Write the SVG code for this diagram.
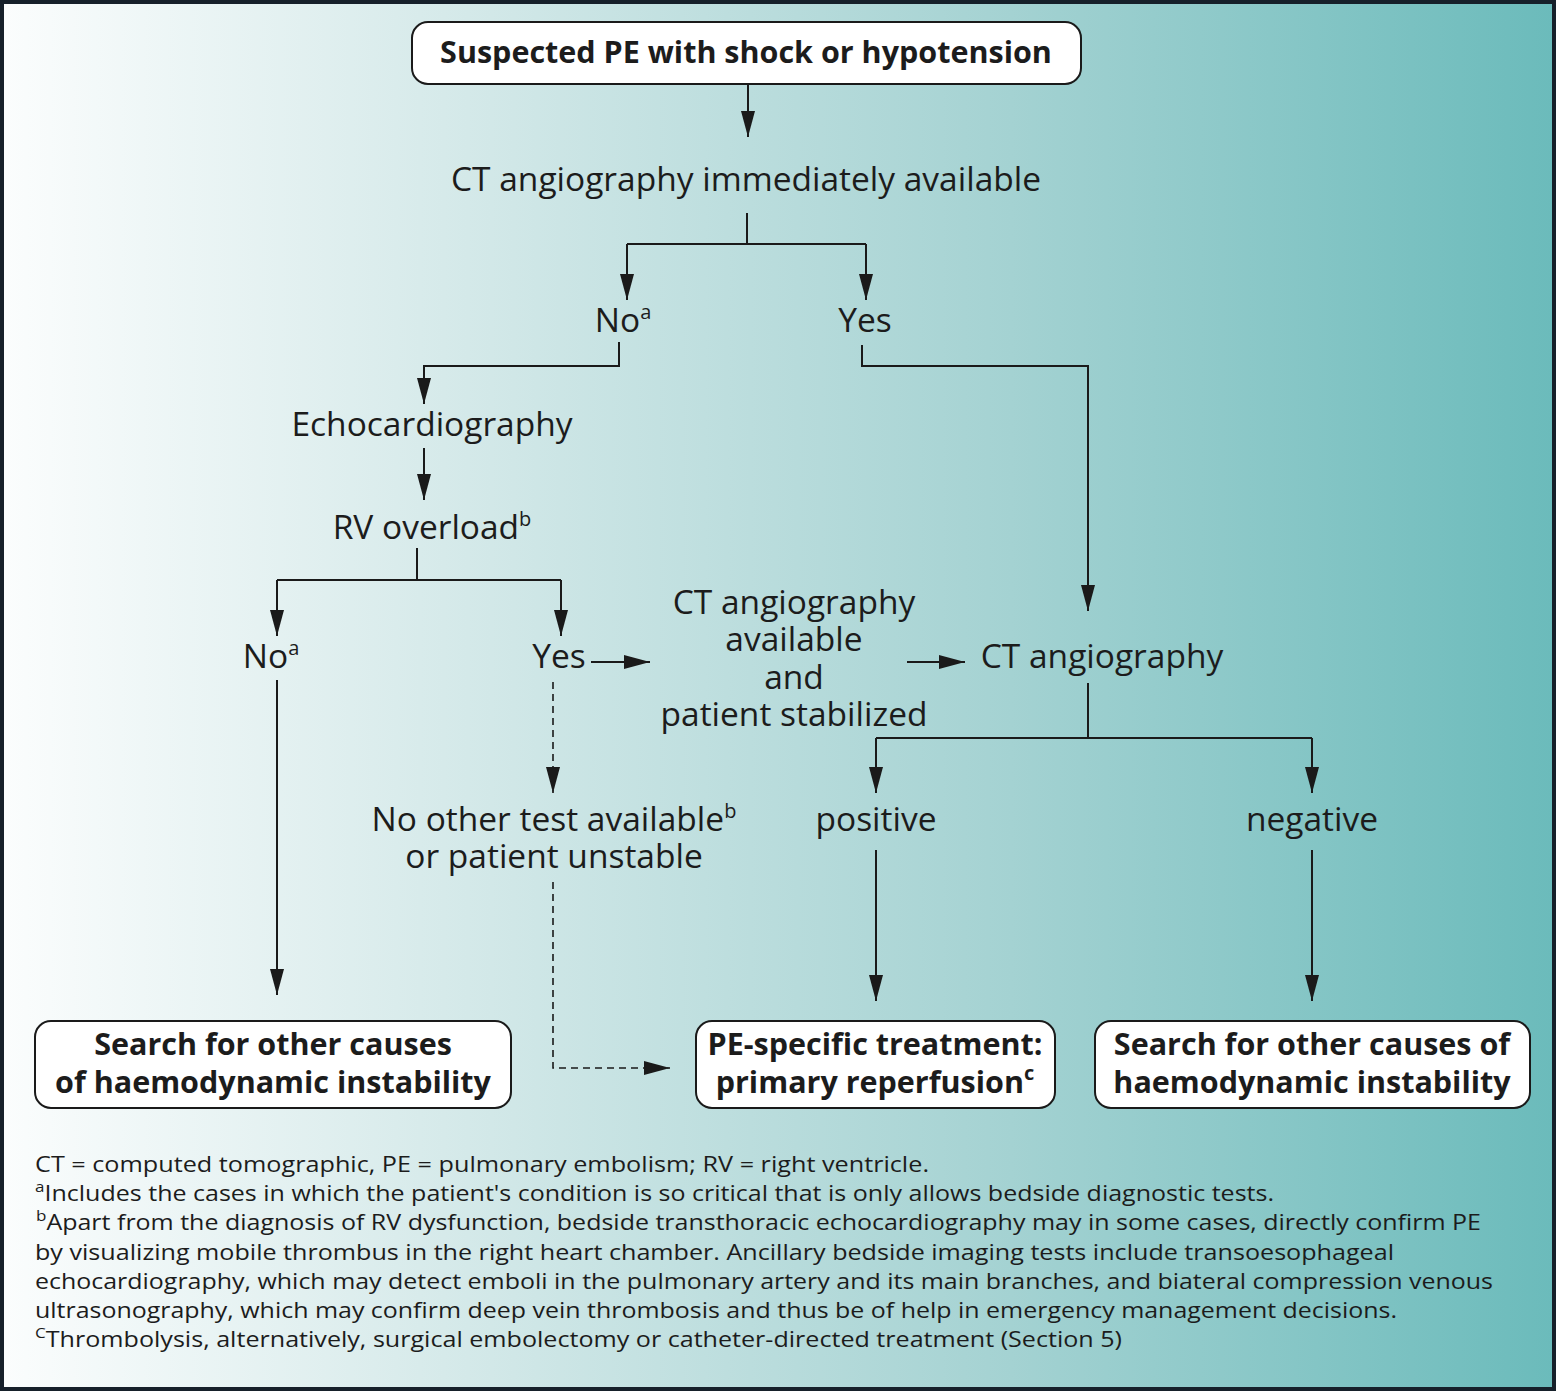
<svg xmlns="http://www.w3.org/2000/svg" width="1556" height="1391" viewBox="0 0 1556 1391">
<defs>
<linearGradient id="bg" x1="0" y1="0" x2="1" y2="0">
<stop offset="0" stop-color="#fbfdfd"/>
<stop offset="0.3" stop-color="#d4e9e9"/>
<stop offset="0.65" stop-color="#a4d2d2"/>
<stop offset="1" stop-color="#6bbbbb"/>
</linearGradient>
<marker id="ah" markerUnits="userSpaceOnUse" markerWidth="26" markerHeight="14" refX="26" refY="7" orient="auto">
<path d="M0,0 L26,7 L0,14 z" fill="#1a1a1a"/>
</marker>
<style>
.t{font-family:"Open Sans","Noto Sans","DejaVu Sans",sans-serif;font-size:33.5px;fill:#1c1c1c;text-anchor:middle}
.b{font-family:"Open Sans","Noto Sans","DejaVu Sans",sans-serif;font-size:30.5px;font-weight:bold;fill:#1c1c1c;text-anchor:middle}
.f{font-family:"Open Sans","Noto Sans","DejaVu Sans",sans-serif;font-size:22px;fill:#1c1c1c}
.sup{font-size:20px}
.fsup{font-size:15px}
.box{fill:#ffffff;stroke:#1a1a1a;stroke-width:2}
.c{fill:none;stroke:#1a1a1a;stroke-width:2}
.ca{fill:none;stroke:#1a1a1a;stroke-width:2;marker-end:url(#ah)}
.d{fill:none;stroke:#1a1a1a;stroke-width:1.6;stroke-dasharray:7,5}
.da{fill:none;stroke:#1a1a1a;stroke-width:1.6;stroke-dasharray:7,5;marker-end:url(#ah)}
</style>
</defs>
<rect x="2" y="2" width="1552" height="1387" fill="url(#bg)" stroke="#16202a" stroke-width="4"/>

<g id="connectors">
<line class="ca" x1="748" y1="84" x2="748" y2="137"/>
<polyline class="c" points="747,213 747,244"/>
<polyline class="ca" points="627,244 627,300"/>
<polyline class="c" points="627,244 866,244"/>
<polyline class="ca" points="866,244 866,300"/>
<polyline class="ca" points="619,342 619,366 424,366 424,404"/>
<polyline class="ca" points="862,345 862,366 1088,366 1088,611"/>
<polyline class="ca" points="424,448 424,500"/>
<polyline class="c" points="417,548 417,580"/>
<polyline class="ca" points="277,580 277,636"/>
<polyline class="c" points="277,580 561,580"/>
<polyline class="ca" points="561,580 561,636"/>
<polyline class="ca" points="591,662 650,662"/>
<polyline class="ca" points="907,662 965,662"/>
<polyline class="c" points="1088,683 1088,738"/>
<polyline class="ca" points="876,738 876,793"/>
<polyline class="c" points="876,738 1312,738"/>
<polyline class="ca" points="1312,738 1312,793"/>
<polyline class="ca" points="876,850 876,1001"/>
<polyline class="ca" points="1312,850 1312,1001"/>
<polyline class="ca" points="277,680 277,995"/>
<polyline class="da" points="553,682 553,793"/>
<polyline class="da" points="553,882 553,1068 670,1068"/>
</g>

<g id="n-start">
<rect class="box" x="412" y="22" width="669" height="62" rx="16"/>
<text class="b" x="746" y="63">Suspected PE with shock or hypotension</text>
</g>
<g id="n-ct-avail">
<text class="t" x="746" y="191">CT angiography immediately available</text>
</g>
<g id="n-no1">
<text class="t" x="623" y="332">No<tspan class="sup" dy="-13">a</tspan></text>
</g>
<g id="n-yes1">
<text class="t" x="865" y="332">Yes</text>
</g>
<g id="n-echo">
<text class="t" x="432" y="436">Echocardiography</text>
</g>
<g id="n-rv">
<text class="t" x="432" y="539">RV overload<tspan class="sup" dy="-13">b</tspan></text>
</g>
<g id="n-no2">
<text class="t" x="271" y="668">No<tspan class="sup" dy="-13">a</tspan></text>
</g>
<g id="n-yes2">
<text class="t" x="559" y="668">Yes</text>
</g>
<g id="n-stab">
<text class="t" x="794" y="614">CT angiography</text>
<text class="t" x="794" y="651">available</text>
<text class="t" x="794" y="689">and</text>
<text class="t" x="794" y="726">patient stabilized</text>
</g>
<g id="n-ct">
<text class="t" x="1102" y="668">CT angiography</text>
</g>
<g id="n-pos">
<text class="t" x="876" y="831">positive</text>
</g>
<g id="n-neg">
<text class="t" x="1312" y="831">negative</text>
</g>
<g id="n-noother">
<text class="t" x="554" y="831">No other test available<tspan class="sup" dy="-13">b</tspan></text>
<text class="t" x="554" y="868">or patient unstable</text>
</g>
<g id="n-search-left">
<rect class="box" x="35" y="1021" width="476" height="87" rx="16"/>
<text class="b" x="273" y="1055">Search for other causes</text>
<text class="b" x="273" y="1093">of haemodynamic instability</text>
</g>
<g id="n-treat">
<rect class="box" x="696" y="1021" width="359" height="87" rx="16"/>
<text class="b" x="875" y="1055">PE-specific treatment:</text>
<text class="b" x="875" y="1093">primary reperfusion<tspan class="sup" dy="-13">c</tspan></text>
</g>
<g id="n-search-right">
<rect class="box" x="1095" y="1021" width="435" height="87" rx="16"/>
<text class="b" x="1312" y="1055">Search for other causes of</text>
<text class="b" x="1312" y="1093">haemodynamic instability</text>
</g>

<g id="footnotes">
<text class="f" x="35" y="1172" textLength="894" lengthAdjust="spacingAndGlyphs">CT = computed tomographic, PE = pulmonary embolism; RV = right ventricle.</text>
<text class="f" x="35" y="1201" textLength="1239" lengthAdjust="spacingAndGlyphs"><tspan class="fsup" dy="-9">a</tspan><tspan dy="9">Includes the cases in which the patient's condition is so critical that is only allows bedside diagnostic tests.</tspan></text>
<text class="f" x="36" y="1230" textLength="1445" lengthAdjust="spacingAndGlyphs"><tspan class="fsup" dy="-9">b</tspan><tspan dy="9">Apart from the diagnosis of RV dysfunction, bedside transthoracic echocardiography may in some cases, directly confirm PE</tspan></text>
<text class="f" x="35" y="1260" textLength="1359" lengthAdjust="spacingAndGlyphs">by visualizing mobile thrombus in the right heart chamber. Ancillary bedside imaging tests include transoesophageal</text>
<text class="f" x="35" y="1289" textLength="1458" lengthAdjust="spacingAndGlyphs">echocardiography, which may detect emboli in the pulmonary artery and its main branches, and biateral compression venous</text>
<text class="f" x="35" y="1318" textLength="1362" lengthAdjust="spacingAndGlyphs">ultrasonography, which may confirm deep vein thrombosis and thus be of help in emergency management decisions.</text>
<text class="f" x="35" y="1347" textLength="1087" lengthAdjust="spacingAndGlyphs"><tspan class="fsup" dy="-9">C</tspan><tspan dy="9">Thrombolysis, alternatively, surgical embolectomy or catheter-directed treatment (Section 5)</tspan></text>
</g>
</svg>
